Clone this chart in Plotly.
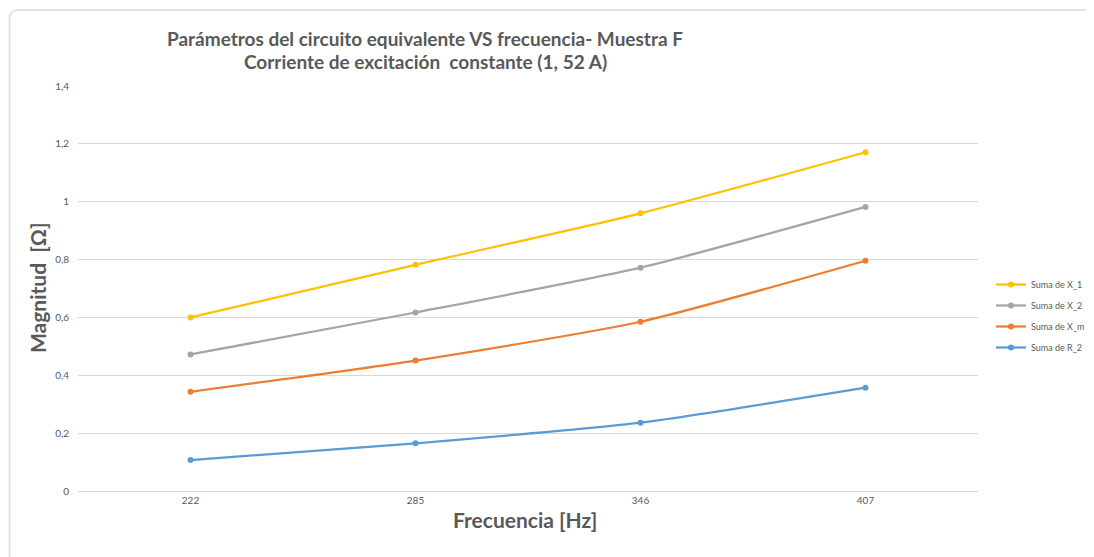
import plotly.graph_objects as go

frecuencia = ["222", "285", "346", "407"]
x_1 = [0.600, 0.782, 0.960, 1.171]
x_2 = [0.472, 0.617, 0.772, 0.982]
x_m = [0.343, 0.451, 0.585, 0.796]
r_2 = [0.107, 0.165, 0.236, 0.357]

series = [
    ("Suma de X_1", x_1, "#FFC000"),
    ("Suma de X_2", x_2, "#A5A5A5"),
    ("Suma de X_m", x_m, "#ED7D31"),
    ("Suma de R_2", r_2, "#5B9BD5"),
]

y_ticks = [0, 0.2, 0.4, 0.6, 0.8, 1.0, 1.2, 1.4]
y_tick_text = ["0", "0,2", "0,4", "0,6", "0,8", "1", "1,2", "1,4"]

fig = go.Figure()
for name, vals, color in series:
    fig.add_trace(go.Scatter(
        x=frecuencia, y=vals, name=name, mode="lines+markers",
        legendgroup=name,
        line=dict(color=color, width=2.25, shape="spline", smoothing=0.6),
        marker=dict(color=color, size=6, symbol="circle"),
    ))

# page body has an 8px margin; work in reference screen pixels and convert
OFF = 8
W, H = 1094 - OFF, 557 - OFF
L = 78 - OFF
R = W - (978 - OFF)
T = 86 - OFF
B = H - (491 - OFF)
pw, ph = W - L - R, H - T - B

def px(xs):
    return (xs - OFF - L) / pw

def py(ys):
    return (H - B - (ys - OFF)) / ph

def cx(xs):
    return (xs - OFF) / W

def cy(ys):
    return 1 - (ys - OFF) / H

font_family = "Lato, 'Open Sans', sans-serif"
grey = "#595959"

fig.update_layout(
    width=W, height=H,
    margin=dict(l=L, r=R, t=T, b=B),
    paper_bgcolor="white", plot_bgcolor="white",
    font=dict(family=font_family, color=grey),
    showlegend=True,
    legend=dict(
        xref="container", yref="container",
        x=cx(991), y=cy(270), xanchor="left", yanchor="top",
        font=dict(size=9, color=grey), bgcolor="rgba(0,0,0,0)",
        itemwidth=30, tracegroupgap=2,
    ),
    xaxis=dict(
        type="category", range=[-0.5, 3.5], showgrid=False,
        showline=True, linecolor="#D9D9D9", linewidth=1,
        ticks="", tickfont=dict(size=10, color=grey),
    ),
    yaxis=dict(
        range=[0, 1.4], tickvals=y_ticks, ticktext=y_tick_text,
        showgrid=True, gridcolor="#D9D9D9", gridwidth=1,
        zeroline=False, showline=False, ticks="",
        tickfont=dict(size=10, color=grey), ticklabelstandoff=8,
    ),
    annotations=[
        dict(text="<b>Parámetros del circuito equivalente VS frecuencia- Muestra F</b>",
             x=px(425), y=py(38), xref="paper", yref="paper", showarrow=False,
             xanchor="center", yanchor="middle",
             font=dict(size=19, color=grey, family=font_family)),
        dict(text="<b>Corriente de excitación  constante (1, 52 A)</b>",
             x=px(425), y=py(62), xref="paper", yref="paper", showarrow=False,
             xanchor="center", yanchor="middle",
             font=dict(size=19, color=grey, family=font_family)),
        dict(text="<b>Magnitud  [Ω]</b>", textangle=-90,
             x=px(37), y=py(288), xref="paper", yref="paper", showarrow=False,
             xanchor="center", yanchor="middle",
             font=dict(size=21, color=grey, family=font_family)),
        dict(text="<b>Frecuencia [Hz]</b>",
             x=px(525), y=py(520), xref="paper", yref="paper", showarrow=False,
             xanchor="center", yanchor="middle",
             font=dict(size=21, color=grey, family=font_family)),
    ],
    shapes=[
        dict(type="path", xref="paper", yref="paper",
             path=f"M {px(9.5)},{py(600)} L {px(9.5)},{py(19)} Q {px(9.5)},{py(10)} {px(18)},{py(10)} L {px(1100)},{py(10)}",
             line=dict(color="#E3E3E3", width=2)),
    ],
)

fig.write_html("out.html")
